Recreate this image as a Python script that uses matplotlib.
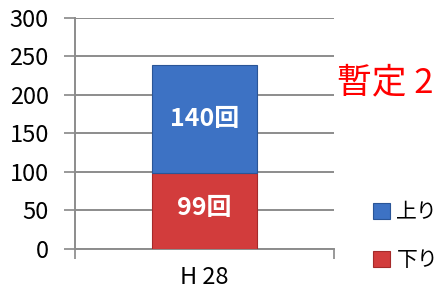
import matplotlib
matplotlib.use("Agg")
import matplotlib.pyplot as plt

plt.rcParams['font.family'] = ['Noto Sans CJK JP', 'DejaVu Sans']

years = ["H 28"]
down = [99]
up = [140]
down_labels = ["99回"]
up_labels = ["140回"]

fig = plt.figure(figsize=(4.42, 2.95), dpi=100)
ax = fig.add_axes([0.170, 0.156, 0.586, 0.783])

x = range(len(years))
b1 = ax.bar(x, down, width=0.405, color='#D23C3C', edgecolor='#A52A2A', linewidth=0.8, label='下り', zorder=3)
b2 = ax.bar(x, up, bottom=down, width=0.405, color='#3D72C4', edgecolor='#2A5597', linewidth=0.8, label='上り', zorder=3)

for i in x:
    ax.text(i, down[i] / 2 + 4, down_labels[i], ha='center', va='center', color='white',
            fontsize=18, fontweight='bold', zorder=4)
    ax.text(i, down[i] + up[i] / 2, up_labels[i], ha='center', va='center', color='white',
            fontsize=18, fontweight='bold', zorder=4)

ax.set_xlim(-0.5, 0.5)
ax.set_ylim(0, 300)
ax.set_yticks(range(0, 301, 50))
ax.set_xticks([-0.5, 0.5], minor=True)
ax.set_xticks(list(x))
ax.set_xticklabels(years, fontsize=17)
ax.tick_params(axis='x', which='major', length=0, pad=12)
ax.tick_params(axis='x', which='minor', length=7, color='#888888', width=1.2)
ax.tick_params(axis='y', labelsize=17, length=8, color='#888888', width=1.2, pad=11)
ax.grid(axis='y', color='#8C8C8C', linewidth=1.4, zorder=0)
for s in ['top', 'right']:
    ax.spines[s].set_visible(False)
for s in ['left', 'bottom']:
    ax.spines[s].set_color('#8C8C8C')
    ax.spines[s].set_linewidth(1.4)

fig.text(0.762, 0.719, "暫定 2", color='red', fontsize=25, va='center', ha='left')

handles = [b2, b1]
fig.legend(handles, ['上り', '下り'], loc='center left', bbox_to_anchor=(0.845, 0.2),
           frameon=False, fontsize=15, handlelength=0.8, handleheight=0.8,
           handletextpad=0.3, labelspacing=1.25, borderaxespad=0, borderpad=0)

fig.savefig("out.png", dpi=100)
